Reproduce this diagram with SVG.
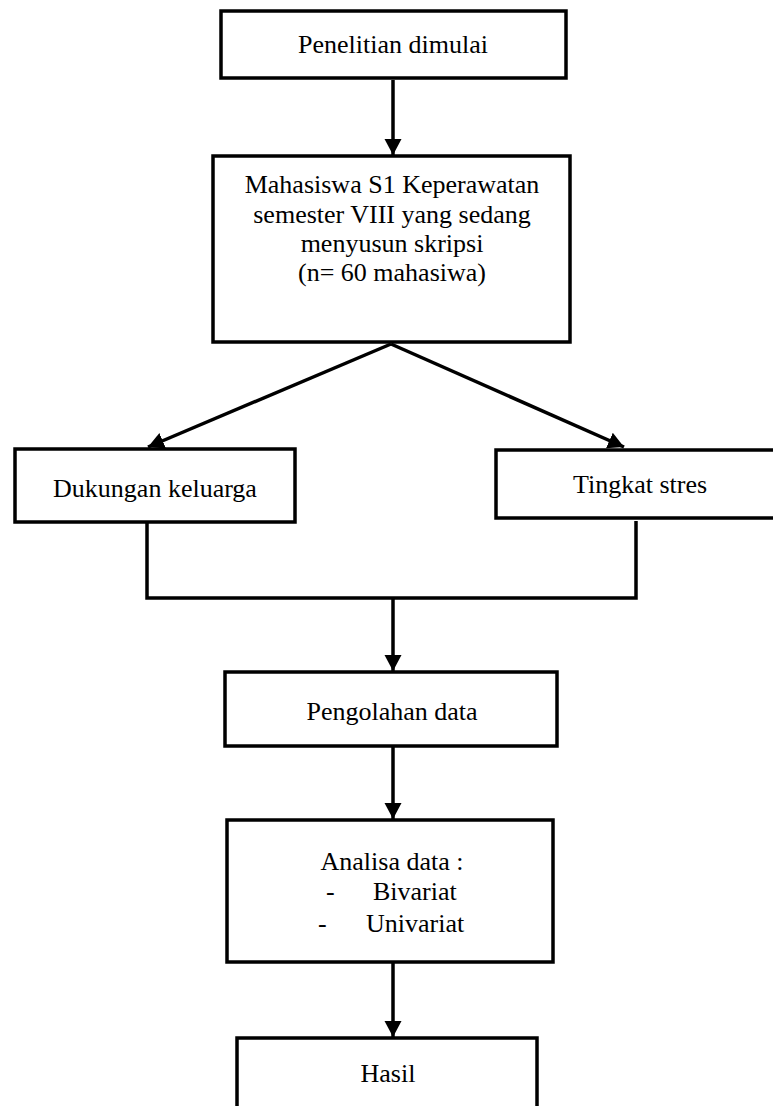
<svg xmlns="http://www.w3.org/2000/svg" width="773" height="1106" viewBox="0 0 773 1106">
<style>
.box{fill:#fff;stroke:#000;stroke-width:3.5}
.t{font-family:"Liberation Serif","Times New Roman",serif;font-size:26px;fill:#000}
.c{text-anchor:middle}
.ln{stroke:#000;stroke-width:3.5;fill:none}
</style>
<defs>
<marker id="ah" markerUnits="userSpaceOnUse" markerWidth="18" markerHeight="18" refX="16" refY="8.5" orient="auto">
<path d="M0,0 L16,8.5 L0,17 z" fill="#000"/>
</marker>
</defs>
<g id="connectors">
<line class="ln" x1="393" y1="80" x2="393" y2="155" marker-end="url(#ah)"/>
<line class="ln" x1="391" y1="344" x2="148" y2="447" marker-end="url(#ah)"/>
<line class="ln" x1="391" y1="344" x2="624" y2="447" marker-end="url(#ah)"/>
<polyline class="ln" points="147,523 147,598 636,598 636,521"/>
<line class="ln" x1="393" y1="598" x2="393" y2="671" marker-end="url(#ah)"/>
<line class="ln" x1="393" y1="747" x2="393" y2="819" marker-end="url(#ah)"/>
<line class="ln" x1="393" y1="963" x2="393" y2="1037" marker-end="url(#ah)"/>
</g>
<g id="n1">
<rect class="box" x="221" y="11" width="345" height="67"/>
<text class="t c" x="393" y="53">Penelitian dimulai</text>
</g>
<g id="n2">
<rect class="box" x="213" y="156" width="357" height="186"/>
<text class="t c" x="392" y="193">Mahasiswa S1 Keperawatan</text>
<text class="t c" x="392" y="223">semester VIII yang sedang</text>
<text class="t c" x="392" y="252">menyusun skripsi</text>
<text class="t c" x="392" y="281">(n= 60 mahasiwa)</text>
</g>
<g id="n3">
<rect class="box" x="15" y="449" width="280" height="73"/>
<text class="t c" x="155" y="497">Dukungan keluarga</text>
</g>
<g id="n4">
<rect class="box" x="496" y="450" width="279" height="68"/>
<text class="t c" x="640" y="493">Tingkat stres</text>
</g>
<g id="n5">
<rect class="box" x="225" y="672" width="332" height="74"/>
<text class="t c" x="392" y="720">Pengolahan data</text>
</g>
<g id="n6">
<rect class="box" x="227" y="820" width="326" height="142"/>
<text class="t c" x="392" y="870">Analisa data :</text>
<text class="t" x="326" y="900">-</text>
<text class="t" x="373" y="900">Bivariat</text>
<text class="t" x="318" y="932">-</text>
<text class="t" x="366" y="932">Univariat</text>
</g>
<g id="n7">
<rect class="box" x="237" y="1038" width="300" height="90"/>
<text class="t c" x="388" y="1082">Hasil</text>
</g>
</svg>
